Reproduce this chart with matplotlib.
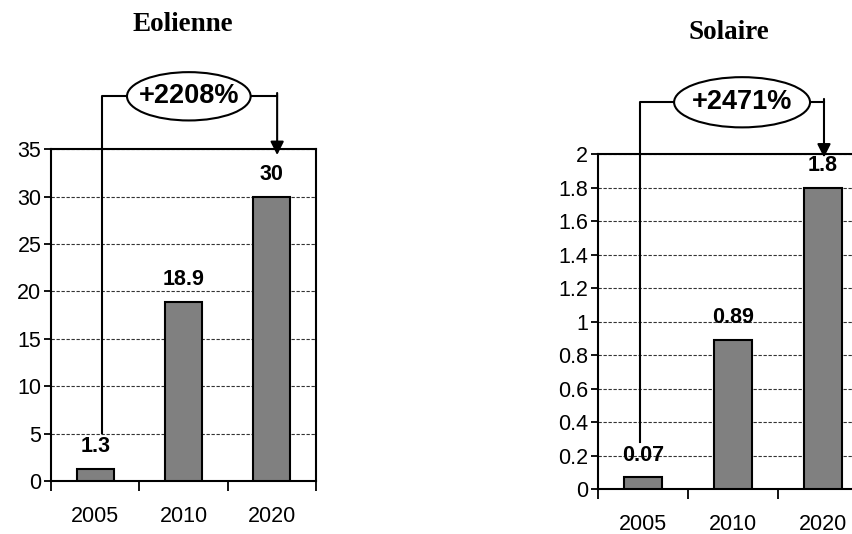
import matplotlib
matplotlib.use('Agg')
import matplotlib.pyplot as plt
from matplotlib.patches import Ellipse

plt.rcParams['font.family'] = ['Liberation Sans', 'DejaVu Sans']

# donnees
annees = ['2005', '2010', '2020']
eolienne = [1.3, 18.9, 30]
solaire = [0.07, 0.89, 1.8]
labels_eol = ['1.3', '18.9', '30']
labels_sol = ['0.07', '0.89', '1.8']
hausse_eol = '+2208%'
hausse_sol = '+2471%'


def graphe(ax, valeurs, labels, ymax, ystep, hausse, br):
    x = range(len(valeurs))
    ax.bar(x, valeurs, width=0.42, color='#808080', edgecolor='black', linewidth=1.5, zorder=3)
    ax.set_xlim(-0.5, len(valeurs) - 0.5)
    ax.set_ylim(0, ymax)
    n = int(round(ymax / ystep))
    yt = [i * ystep for i in range(n + 1)]
    ax.set_yticks(yt)
    ax.set_yticklabels(['%g' % round(v, 2) for v in yt], fontsize=15.5)
    ax.set_xticks([i - 0.5 for i in range(len(valeurs) + 1)])
    ax.set_xticklabels([])
    ax.set_xticks(list(x), minor=True)
    ax.set_xticklabels(annees, minor=True, fontsize=15.5)
    ax.tick_params(axis='x', which='major', length=7, width=1.3, direction='out')
    ax.tick_params(axis='x', which='minor', length=0, pad=18)
    ax.tick_params(axis='y', length=5, width=1.3, pad=2)
    ax.grid(axis='y', linestyle=(0, (3, 1.5)), color='#333333', linewidth=0.8, zorder=0)
    for s in ax.spines.values():
        s.set_linewidth(1.5)
    for i, (v, l) in enumerate(zip(valeurs, labels)):
        ax.text(i, v + ymax * 0.035, l, ha='center', va='bottom', fontsize=15.5, fontweight='bold')

    # crochet avec pourcentage
    x0, ybas, ytop, xe, we, he, x1, ypointe = br
    ax.plot([x0, x0, xe - we / 2], [ybas, ytop, ytop], color='black', lw=1.5, clip_on=False, zorder=4)
    ax.plot([xe + we / 2, x1], [ytop, ytop], color='black', lw=1.5, clip_on=False, zorder=4)
    ax.annotate('', xy=(x1, ypointe), xytext=(x1, ytop + 0.01 * ymax),
                arrowprops=dict(arrowstyle='-|>', color='black', lw=1.5, mutation_scale=20,
                                shrinkA=0, shrinkB=0),
                annotation_clip=False, zorder=4)
    ax.add_patch(Ellipse((xe, ytop), we, he, facecolor='white', edgecolor='black',
                         lw=1.5, clip_on=False, zorder=5))
    ax.text(xe, ytop, hausse, ha='center', va='center', fontsize=19.5, fontweight='bold', zorder=6)


fig = plt.figure(figsize=(8.52, 5.34), dpi=100)

ax1 = fig.add_axes([0.0599, 0.0993, 0.311, 0.621])
graphe(ax1, eolienne, labels_eol, 35, 5, hausse_eol,
       (0.08, 5.1, 40.6, 1.06, 1.4, 5.1, 2.06, 34.4))

ax2 = fig.add_axes([0.7019, 0.0843, 0.317, 0.627])
graphe(ax2, solaire, labels_sol, 2, 0.2, hausse_sol,
       (-0.03, 0.28, 2.31, 1.1, 1.51, 0.3, 2.01, 1.98))

fig.text(0.215, 0.942, 'Eolienne', ha='center', va='baseline', fontsize=19.5,
         fontweight='bold', family=['Liberation Serif'])
fig.text(0.856, 0.927, 'Solaire', ha='center', va='baseline', fontsize=19.5,
         fontweight='bold', family=['Liberation Serif'])

fig.savefig('out.png', dpi=100)
